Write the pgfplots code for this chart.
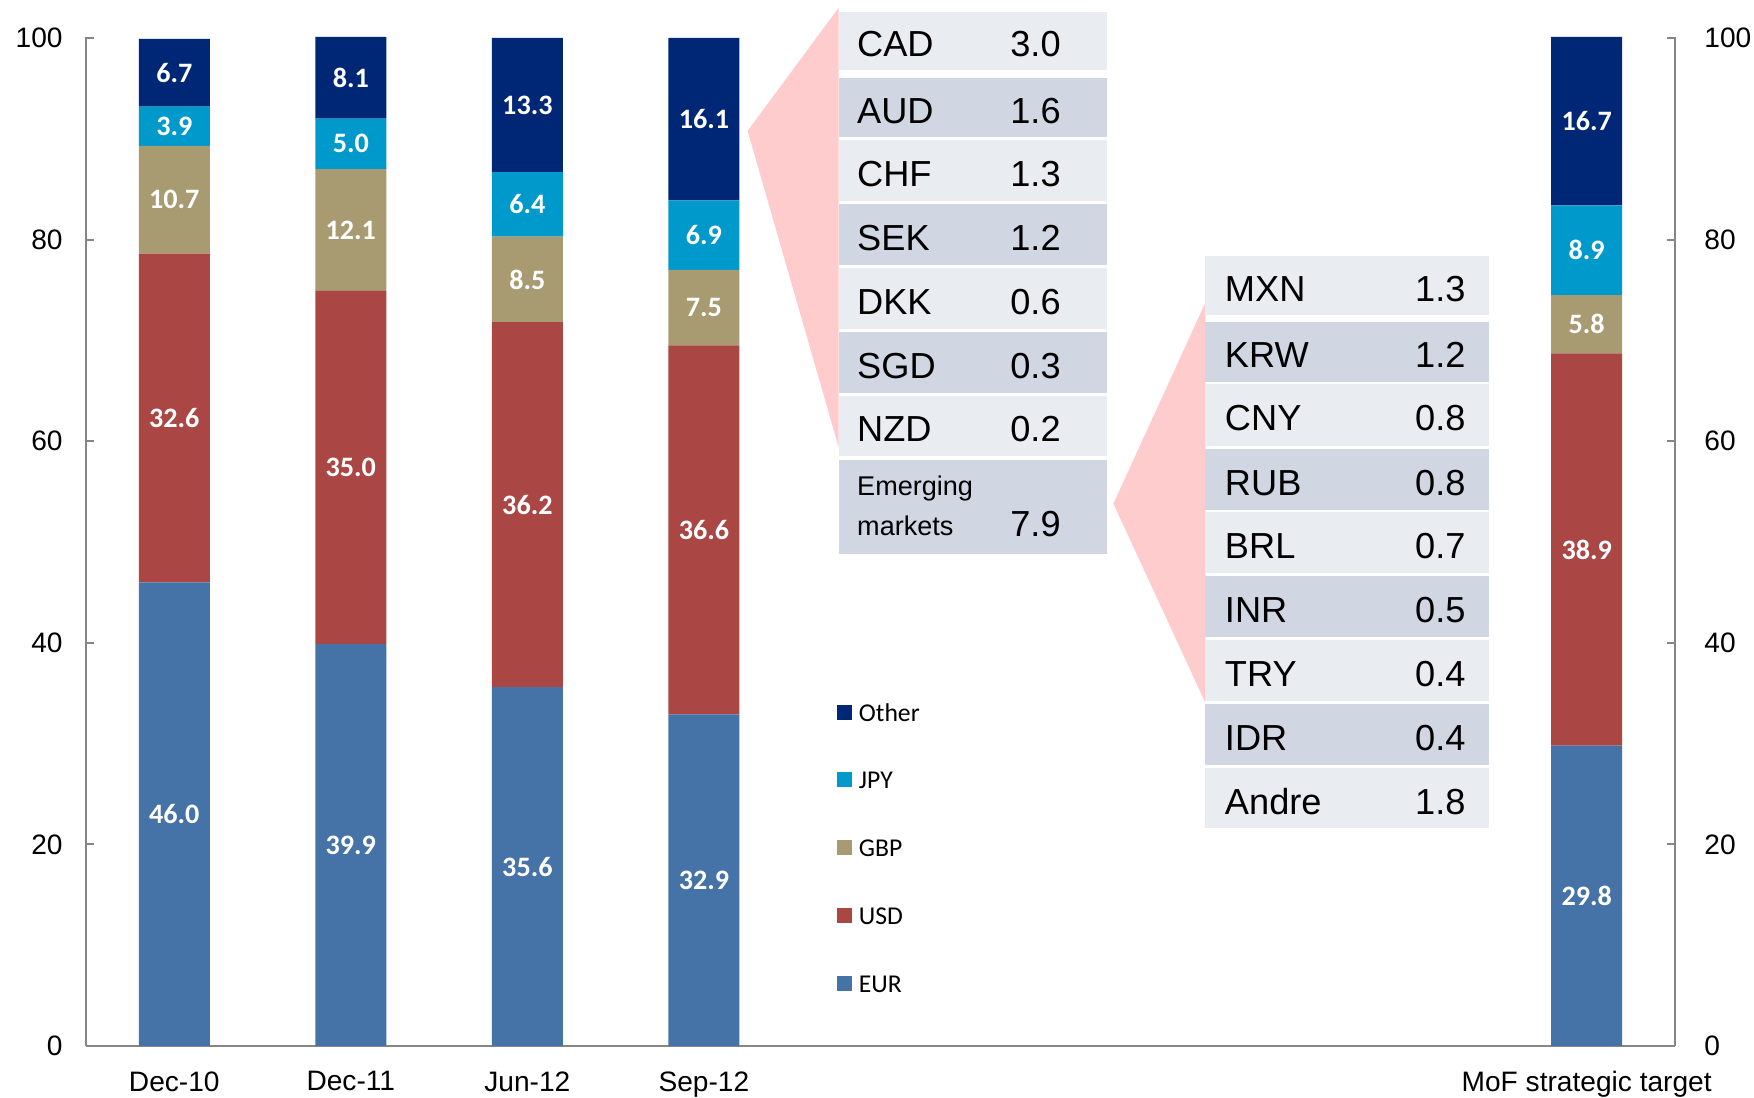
\documentclass[border=0pt]{standalone}
\usepackage{fontspec}
\setmainfont{Liberation Sans}
\newfontfamily\carlito{Carlito}
\usepackage{pgfplots}
\usepackage{pgfplotstable}
\pgfplotsset{compat=1.18}
\definecolor{cEUR}{RGB}{69,114,167}
\definecolor{cUSD}{RGB}{170,70,67}
\definecolor{cGBP}{RGB}{168,155,114}
\definecolor{cJPY}{RGB}{0,153,204}
\definecolor{cOTH}{RGB}{0,39,118}
\definecolor{tabL}{RGB}{233,236,241}
\definecolor{tabD}{RGB}{208,214,226}
\definecolor{pinkf}{RGB}{255,204,206}
\definecolor{axgray}{RGB}{134,134,134}

\pgfplotstableread{
x   EUR   USD   GBP   JPY   OTH
0   46.0  32.6  10.7  3.9   6.7
1   39.9  35.0  12.1  5.0   8.1
2   35.6  36.2  8.5   6.4   13.3
3   32.9  36.6  7.5   6.9   16.1
8   29.8  38.9  5.8   8.9   16.7
}\shares

\begin{document}
\begin{tikzpicture}
\begin{axis}[
  at={(0,0)}, anchor=south west,
  scale only axis, width=15.89cm, height=10.09cm,
  ybar stacked, bar width=0.71cm,
  xmin=-0.5, xmax=8.5, ymin=0, ymax=100.1,
  xtick={0,1,2,3,8},
  xticklabels={Dec-10,Dec-11,Jun-12,Sep-12,MoF strategic target},
  ytick={0,20,40,60,80,100},
  axis x line*=bottom, axis y line*=left,
  axis line style={draw=axgray, line width=0.6pt, -},
  tick align=inside,
  major tick length=0.08cm,
  xtick style={draw=none},
  ytick style={draw=axgray, line width=0.6pt},
  /pgf/number format/assume math mode=true,
  ticklabel style={font=\fontsize{8}{9}\selectfont},
  yticklabel style={xshift=-0.11cm},
  xticklabel style={yshift=-0.13cm},
  point meta=explicit,
  nodes near coords={\pgfmathprintnumber[fixed,fixed zerofill,precision=1]{\pgfplotspointmeta}},
  every node near coord/.append style={anchor=center, text=white, inner sep=0pt, font=\carlito\bfseries\fontsize{8}{9}\selectfont},
  reverse legend,
  legend cell align=left,
  legend style={at={(0.4726,0.3383)}, anchor=north west, draw=none, fill=none,
    inner sep=0pt, outer sep=0pt, row sep=0.512cm,
    font=\carlito\fontsize{7.3}{8}\selectfont,
    nodes={inner sep=0pt, text height=0.165cm, text depth=0cm},
    /tikz/every odd column/.append style={column sep=0.07cm}},
  every axis plot post/.append style={legend image code/.code={\fill[#1] (0cm,-0.067cm) rectangle (0.15cm,0.083cm);}},
]
\addplot[fill=cEUR, draw=none] table[x=x, y=EUR, meta=EUR] {\shares};
\addplot[fill=cUSD, draw=none] table[x=x, y=USD, meta=USD] {\shares};
\addplot[fill=cGBP, draw=none] table[x=x, y=GBP, meta=GBP] {\shares};
\addplot[fill=cJPY, draw=none] table[x=x, y=JPY, meta=JPY] {\shares};
\addplot[fill=cOTH, draw=none] table[x=x, y=OTH, meta=OTH] {\shares};
\legend{EUR,USD,GBP,JPY,Other}
\end{axis}
\begin{axis}[
  at={(0,0)}, anchor=south west,
  scale only axis, width=15.89cm, height=10.09cm,
  xmin=-0.5, xmax=8.5, ymin=0, ymax=100.1,
  axis x line=none, axis y line*=right,
  axis line style={draw=axgray, line width=0.6pt, -},
  ytick={0,20,40,60,80,100},
  tick align=inside, major tick length=0.08cm,
  ytick style={draw=axgray, line width=0.6pt},
  /pgf/number format/assume math mode=true,
  ticklabel style={font=\fontsize{8}{9}\selectfont},
  yticklabel style={xshift=0.17cm},
]
\addplot[draw=none] coordinates {(0,0)};
\end{axis}
\begin{scope}[x=0.01cm, y=-0.01cm, shift={(-0.86cm,10.46cm)}]
\fill[pinkf] (748,131) -- (839,8) -- (839,447) -- cycle;
\fill[pinkf] (1114,504) -- (1206,303) -- (1206,703) -- cycle;
\foreach \t/\b/\c/\lab/\val in {12/70/tabL/CAD/3.0, 78/137/tabD/AUD/1.6, 140/201/tabL/CHF/1.3, 204/265/tabD/SEK/1.2, 268/329/tabL/DKK/0.6, 332/393/tabD/SGD/0.3, 396/456/tabL/NZD/0.2} {
  \fill[\c] (839,\t) rectangle (1108,\b);
  \node[anchor=base west, inner sep=0pt, font=\fontsize{10.3}{12}\selectfont] at (857,{(\t+\b)/2+16}) {\lab};
  \node[anchor=base east, inner sep=0pt, font=\fontsize{10.3}{12}\selectfont] at (1062,{(\t+\b)/2+16}) {\val};
}
\fill[tabD] (839,460) rectangle (1108,554);
\node[anchor=base west, inner sep=0pt, font=\fontsize{7.7}{9}\selectfont] at (857,496) {Emerging};
\node[anchor=base west, inner sep=0pt, font=\fontsize{7.7}{9}\selectfont] at (857,536) {markets};
\node[anchor=base east, inner sep=0pt, font=\fontsize{10.3}{12}\selectfont] at (1062,537) {7.9};
\foreach \t/\b/\c/\lab/\val in {256/315/tabL/MXN/1.3, 322/382/tabD/KRW/1.2, 384/446/tabL/CNY/0.8, 449/510/tabD/RUB/0.8, 512/573/tabL/BRL/0.7, 576/637/tabD/INR/0.5, 640/701/tabL/TRY/0.4, 704/765/tabD/IDR/0.4, 768/829/tabL/Andre/1.8} {
  \fill[\c] (1206,\t) rectangle (1490,\b);
  \node[anchor=base west, inner sep=0pt, font=\fontsize{10.3}{12}\selectfont] at (1225,{(\t+\b)/2+16}) {\lab};
  \node[anchor=base east, inner sep=0pt, font=\fontsize{10.3}{12}\selectfont] at (1467,{(\t+\b)/2+16}) {\val};
}
\end{scope}
\pgfresetboundingbox
\path[use as bounding box] (-0.86cm,-0.52cm) rectangle (16.68cm,10.46cm);
\end{tikzpicture}
\end{document}
